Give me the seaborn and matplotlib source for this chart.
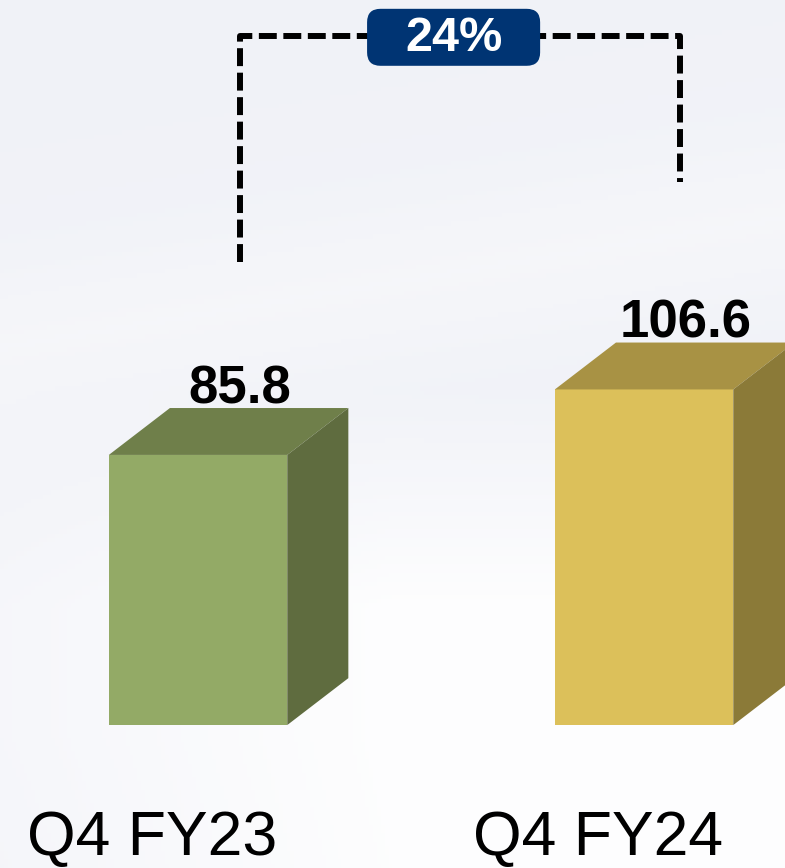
import numpy as np
import matplotlib.pyplot as plt
import seaborn as sns
from matplotlib.patches import FancyBboxPatch

# data
categories = ["Q4 FY23", "Q4 FY24"]
values = [85.8, 106.6]
growth_label = "24%"

front_colors = ["#93AA66", "#DCC05A"]
top_colors = ["#6F7F4A", "#A89244"]
side_colors = ["#5F6C3F", "#8B7A38"]

sns.set_theme(style="white")
plt.rcParams['font.family'] = ['Liberation Sans', 'DejaVu Sans']

fig = plt.figure(figsize=(7.85, 8.68), dpi=100)
ax = fig.add_axes([0, 0, 1, 1])

xmin, xmax = -0.444, 1.316
ymin, ymax = -45.4, 230.3

# soft background (gy = 0 at top)
gx, gy = np.meshgrid(np.linspace(0, 1, 200), np.linspace(0, 1, 200))
band = np.exp(-((gy - 0.40 + 0.15 * gx) / 0.10) ** 2)
lower = np.clip((gy - 0.45) / 0.25, 0, 1) * np.clip(0.4 + 1.2 * gx, 0, 1)
light = np.clip(0.3 * band + 0.9 * lower - 0.5 * np.clip(gy - 0.85, 0, 1) * (1 - gx), 0, 1)
base = np.array([0.945, 0.950, 0.972])
white = np.array([1.0, 1.0, 1.0])
img = base[None, None, :] * (1 - light[..., None]) + white[None, None, :] * light[..., None]
ax.imshow(img, extent=[xmin, xmax, ymin, ymax], origin='upper', aspect='auto', zorder=0)

sns.barplot(x=categories, y=values, hue=categories, palette=front_colors,
            width=0.4, saturation=1, legend=False, ax=ax, zorder=3, linewidth=0)

dx, dy = 0.137, 14.9
for i, p in enumerate(ax.patches):
    x0, w, h = p.get_x(), p.get_width(), p.get_height()
    ax.fill([x0, x0 + dx, x0 + w + dx, x0 + w], [h, h + dy, h + dy, h],
            color=top_colors[i], zorder=3, lw=0)
    ax.fill([x0 + w, x0 + w, x0 + w + dx, x0 + w + dx], [0, h, h + dy, dy],
            color=side_colors[i], zorder=3, lw=0)
    cx = x0 + w / 2
    ax.text(cx + 0.094, h + dy + 1.5, f"{values[i]}", ha='center', va='baseline',
            fontsize=38, fontweight='bold', color='black', zorder=4)
    ax.text(cx - 0.103, -41.2, categories[i], ha='center', va='baseline',
            fontsize=45, color='black', zorder=4)

# growth bracket
xl = ax.patches[0].get_x() + ax.patches[0].get_width() / 2 + 0.094
xr = ax.patches[1].get_x() + ax.patches[1].get_width() / 2 + 0.08
ytop = 218.9
ax.plot([xl, xl, xr, xr],
        [values[0] + dy + 46.4, ytop, ytop, values[1] + dy + 51],
        color='black', lw=4.3, ls=(0, (3, 1.1)), zorder=4,
        solid_capstyle='butt', dash_capstyle='butt')

bx0, bx1 = 0.379, 0.767
by0, by1 = 209.4, 227.5
aspect = ((ymax - ymin) / 868) / ((xmax - xmin) / 785)
badge = FancyBboxPatch((bx0, by0), bx1 - bx0, by1 - by0,
                       boxstyle="round,pad=0,rounding_size=0.03",
                       mutation_aspect=aspect, fc="#003473", ec='none', zorder=5)
ax.add_patch(badge)
ax.text((bx0 + bx1) / 2, (by0 + by1) / 2 - 0.3, growth_label, ha='center', va='center',
        fontsize=35, fontweight='bold', color='white', zorder=6)

ax.set_xlim(xmin, xmax)
ax.set_ylim(ymin, ymax)
ax.axis('off')

fig.savefig("out.png", dpi=100)
